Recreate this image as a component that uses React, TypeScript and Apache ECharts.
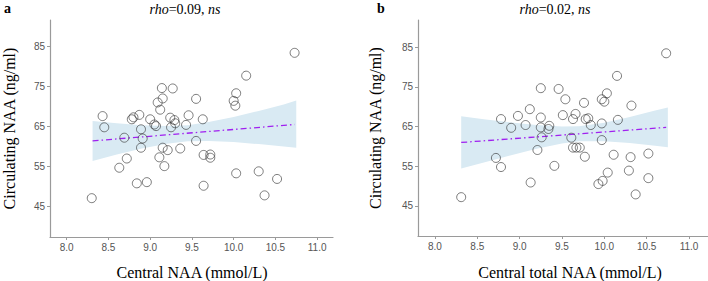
import React, { useEffect, useRef } from "react";
import * as echarts from "echarts";

// Panel a: Central NAA (mmol/L) vs circulating NAA (ng/ml)
const centralNAA = [8.30, 8.43, 8.45, 8.63, 8.72, 8.69, 8.78, 8.80, 8.87, 8.89, 8.91, 8.89, 8.84, 8.96, 9.00, 9.05, 9.07, 9.14, 9.27, 9.09, 9.15, 9.12, 9.15, 9.21, 9.11, 9.17, 9.24, 9.29, 9.30, 9.25, 9.36, 9.43, 9.46, 9.55, 9.55, 9.63, 9.64, 9.72, 9.72, 9.64, 10.03, 10.30, 10.52, 10.37, 10.73, 10.15, 10.03, 10.00, 10.02];
const circA = [47.1, 67.6, 64.8, 54.7, 57.0, 62.2, 66.8, 67.3, 67.9, 64.3, 62.0, 59.7, 50.8, 51.1, 66.8, 65.5, 65.1, 74.6, 74.5, 71.0, 72.0, 69.2, 59.7, 59.1, 57.3, 55.1, 67.2, 66.6, 65.8, 64.8, 59.5, 65.4, 67.8, 71.9, 61.4, 66.8, 57.9, 58.0, 57.2, 50.2, 53.3, 53.8, 51.9, 47.8, 83.4, 77.7, 73.3, 71.4, 70.2];

// Panel b: Central total NAA (mmol/L) vs circulating NAA (ng/ml)
const centralTotalNAA = [8.31, 8.72, 8.78, 8.78, 8.90, 8.98, 9.07, 9.12, 9.13, 9.25, 9.25, 9.25, 9.26, 9.35, 9.34, 9.21, 9.41, 9.46, 9.54, 9.51, 9.63, 9.66, 9.76, 9.78, 9.81, 9.84, 9.61, 9.63, 9.67, 9.71, 9.77, 9.97, 10.00, 10.03, 10.15, 9.97, 9.97, 10.16, 10.32, 10.11, 10.31, 10.52, 10.04, 9.98, 9.93, 10.29, 10.52, 10.37, 10.73];
const circB = [47.2, 57.1, 54.8, 66.9, 64.7, 67.7, 65.4, 69.4, 50.9, 74.7, 67.3, 64.8, 62.3, 65.2, 64.4, 59.1, 55.1, 74.5, 71.9, 67.9, 66.9, 68.2, 71.0, 66.9, 67.1, 65.4, 62.2, 59.7, 59.7, 59.7, 57.4, 71.9, 71.3, 73.4, 77.8, 65.8, 61.6, 66.7, 70.3, 57.9, 57.3, 58.2, 53.4, 51.3, 50.5, 53.9, 52.0, 47.9, 83.5];

// Fitted lines
const fitAX = [8.31, 10.73];
const fitAY = [61.4, 65.5];
const fitBX = [8.31, 10.73];
const fitBY = [61.0, 64.8];

// Confidence bands
const bandAX = [8.31, 8.6, 8.9, 9.2, 9.45, 9.7, 10.0, 10.3, 10.6, 10.75];
const bandALo = [56.4, 58.0, 59.5, 60.7, 61.3, 61.4, 61.15, 60.6, 60.0, 59.7];
const bandAHi = [66.4, 65.8, 65.3, 65.1, 65.3, 66.1, 67.4, 68.9, 70.5, 71.5];
const bandBX = [8.31, 8.6, 8.9, 9.2, 9.5, 9.7, 10.0, 10.3, 10.6, 10.75];
const bandBLo = [54.4, 56.1, 57.8, 59.4, 60.75, 61.3, 61.3, 60.85, 60.15, 59.8];
const bandBHi = [67.6, 66.8, 66.05, 65.4, 65.0, 65.1, 66.0, 67.4, 69.05, 69.8];

const xTicks = [8.0, 8.5, 9.0, 9.5, 10.0, 10.5, 11.0];
const yTicks = [45, 55, 65, 75, 85];

const titleA = "{i|rho}=0.09, {i|ns}";
const titleB = "{i|rho}=0.02, {i|ns}";
const xNameA = "Central NAA (mmol/L)";
const xNameB = "Central total NAA (mmol/L)";
const yName = "Circulating NAA (ng/ml)";

const SERIF = "'Liberation Serif', 'Times New Roman', serif";
const SANS = "'Liberation Sans', Arial, sans-serif";

function makeAxisX(gridIndex: number, max: number) {
  return {
    type: "value",
    gridIndex,
    min: 7.8,
    max,
    axisLine: { show: true, lineStyle: { color: "#9a9a9a", width: 1.2 } },
    axisTick: { show: true, length: 3, customValues: xTicks, lineStyle: { color: "#9a9a9a" } },
    axisLabel: {
      customValues: xTicks,
      formatter: (v: number) => v.toFixed(1),
      color: "#555",
      fontFamily: SANS,
      fontSize: 10,
      margin: 5,
    },
    splitLine: { show: false },
  };
}

function makeAxisY(gridIndex: number, max: number, gap: number) {
  return {
    type: "value",
    gridIndex,
    min: 37.4,
    max,
    name: yName,
    nameLocation: "middle",
    nameRotate: 90,
    nameGap: gap,
    nameTextStyle: { fontFamily: SERIF, fontSize: 16, color: "#000" },
    axisLine: { show: true, lineStyle: { color: "#9a9a9a", width: 1.2 } },
    axisTick: { show: true, length: 3, customValues: yTicks, lineStyle: { color: "#9a9a9a" } },
    axisLabel: {
      customValues: yTicks,
      color: "#555",
      fontFamily: SANS,
      fontSize: 10,
      margin: 5,
    },
    splitLine: { show: false },
  };
}

function bandSeries(idx: number, xs: number[], lo: number[], hi: number[]) {
  const data = xs.map((x, i) => [x, lo[i], hi[i]]);
  return {
    type: "custom",
    xAxisIndex: idx,
    yAxisIndex: idx,
    data,
    encode: { x: 0, y: [1, 2] },
    silent: true,
    z: 1,
    renderItem: (params: any, api: any) => {
      if (params.dataIndex !== 0) return null;
      const upper = xs.map((x, i) => api.coord([x, hi[i]]));
      const lower = xs.map((x, i) => api.coord([x, lo[i]])).reverse();
      return {
        type: "polygon",
        shape: { points: upper.concat(lower) },
        style: { fill: "#d9eaf3", stroke: "none" },
      };
    },
  };
}

function fitSeries(idx: number, xs: number[], ys: number[]) {
  return {
    type: "line",
    xAxisIndex: idx,
    yAxisIndex: idx,
    data: xs.map((x, i) => [x, ys[i]]),
    symbol: "none",
    silent: true,
    z: 2,
    lineStyle: { color: "#a020f0", width: 1.3, type: [6, 3, 1.5, 3] },
  };
}

function pointSeries(idx: number, xs: number[], ys: number[]) {
  return {
    type: "scatter",
    xAxisIndex: idx,
    yAxisIndex: idx,
    data: xs.map((x, i) => [x, ys[i]]),
    symbol: "circle",
    symbolSize: 9,
    z: 3,
    itemStyle: { color: "rgba(255,255,255,0)", borderColor: "#333", borderWidth: 0.8 },
  };
}

export default function App() {
  const ref = useRef<HTMLDivElement>(null);

  useEffect(() => {
    if (!ref.current) return;
    const chart = echarts.init(ref.current, null, { renderer: "svg" });
    chart.setOption({
      animation: false,
      backgroundColor: "#fff",
      grid: [
        { left: 41, top: 20, width: 292, height: 217 },
        { left: 418, top: 20, width: 290, height: 216 },
      ],
      xAxis: [makeAxisX(0, 11.19), makeAxisX(1, 11.224)],
      yAxis: [makeAxisY(0, 91.6, 33), makeAxisY(1, 91.9, 35)],
      graphic: [
        {
          type: "text",
          x: 4,
          y: 8,
          style: { text: "a", font: `bold 14px ${SERIF}`, fill: "#000", textVerticalAlign: "middle" },
        },
        {
          type: "text",
          x: 377,
          y: 8,
          style: { text: "b", font: `bold 14px ${SERIF}`, fill: "#000", textVerticalAlign: "middle" },
        },
        {
          type: "text",
          x: 185,
          y: 9,
          style: {
            text: titleA,
            font: `14px ${SERIF}`,
            fill: "#000",
            textAlign: "center",
            textVerticalAlign: "middle",
            rich: { i: { fontStyle: "italic", fontFamily: SERIF, fontSize: 14 } },
          },
        },
        {
          type: "text",
          x: 555,
          y: 9,
          style: {
            text: titleB,
            font: `14px ${SERIF}`,
            fill: "#000",
            textAlign: "center",
            textVerticalAlign: "middle",
            rich: { i: { fontStyle: "italic", fontFamily: SERIF, fontSize: 14 } },
          },
        },
        {
          type: "text",
          x: 192,
          y: 272,
          style: { text: xNameA, font: `16px ${SERIF}`, fill: "#000", textAlign: "center", textVerticalAlign: "middle" },
        },
        {
          type: "text",
          x: 570,
          y: 272,
          style: { text: xNameB, font: `16px ${SERIF}`, fill: "#000", textAlign: "center", textVerticalAlign: "middle" },
        },
      ],
      series: [
        bandSeries(0, bandAX, bandALo, bandAHi),
        fitSeries(0, fitAX, fitAY),
        pointSeries(0, centralNAA, circA),
        bandSeries(1, bandBX, bandBLo, bandBHi),
        fitSeries(1, fitBX, fitBY),
        pointSeries(1, centralTotalNAA, circB),
      ],
    });
    return () => chart.dispose();
  }, []);

  return (
    <div
      ref={ref}
      style={{ position: "absolute", left: 0, top: 0, width: 708, height: 281 }}
    />
  );
}
